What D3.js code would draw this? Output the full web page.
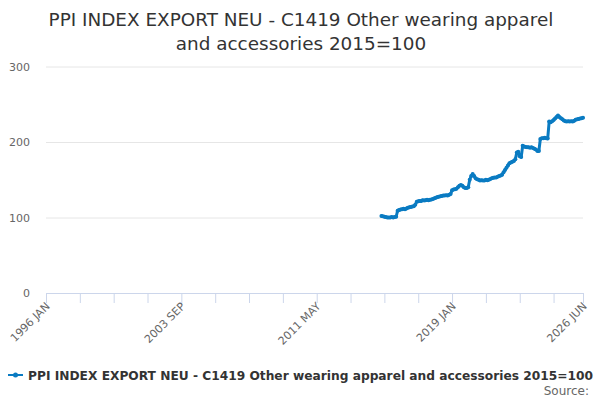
<!DOCTYPE html>
<html>
<head>
<meta charset="utf-8">
<script src="https://cdn.jsdelivr.net/npm/d3@7"></script>
<style>
  body { margin: 0; background: #fff; }
  svg { font-family: "DejaVu Sans", sans-serif; }
</style>
</head>
<body>
<svg id="chart" width="600" height="400"></svg>
<script>
var monthNames = ["JAN","FEB","MAR","APR","MAY","JUN","JUL","AUG","SEP","OCT","NOV","DEC"];
var firstYear = 1996, lastYear = 2026, lastMonth = 6;
var dataStart = "2015 JAN";
var yTicks = [0, 100, 200, 300];
var xLabels = ["1996 JAN", "2003 SEP", "2011 MAY", "2019 JAN", "2026 JUN"];
var seriesName = "PPI INDEX EXPORT NEU - C1419 Other wearing apparel and accessories 2015=100";

var v2015 = [102, 101.5, 101, 100.5, 100, 100, 100, 100.5, 100, 100.5, 101, 109];
var v2016 = [110, 110.5, 111, 111.5, 111, 112, 113, 113.5, 114, 114.5, 115, 117];
var v2017 = [121, 121.5, 122, 122, 123, 122.5, 123, 123.5, 123, 123.5, 124, 124.5];
var v2018 = [125.5, 126, 127, 127.5, 128, 128.5, 129, 129, 129.5, 129, 130, 131];
var v2019 = [136, 137, 137.5, 138, 140, 142, 143, 142, 140, 139, 139, 140];
var v2020 = [150, 155, 157.5, 155, 152, 150.5, 150, 149, 149.5, 149, 149, 150];
var v2021 = [149.5, 150, 151, 152, 152.5, 153, 153, 154, 155, 155.5, 156.5, 160];
var v2022 = [163, 166, 169, 172, 173, 174, 175, 177, 186, 187, 181, 180];
var v2023 = [195, 194, 193.5, 193, 193, 192.5, 193, 192, 191, 190, 188, 188];
var v2024 = [204, 205, 205, 205.5, 205, 204.5, 227, 226, 227.5, 229, 231, 233];
var v2025 = [235, 233, 231.5, 230, 228.5, 227.5, 227, 227.5, 227, 227.5, 227, 228];
var v2026 = [229.5, 230, 230.5, 231, 231.5, 232];

function main() {
  var svg = d3.select("#chart");
  var color = "#0a7bc2";

  // monthly categories
  var months = [];
  for (var y = firstYear; y <= lastYear; y++) {
    for (var m = 0; m < 12; m++) {
      if (y == lastYear && m >= lastMonth) break;
      months.push(y + " " + monthNames[m]);
    }
  }
  var values = [].concat(v2015, v2016, v2017, v2018, v2019, v2020, v2021, v2022, v2023, v2024, v2025, v2026);
  var startIdx = months.indexOf(dataStart);
  var data = values.map(function(v, i) { return { month: months[startIdx + i], value: v }; });

  var x = d3.scalePoint().domain(months).range([46, 583]);
  var yScale = d3.scaleLinear().domain([0, 300]).range([293, 66.5]);

  // title
  svg.append("text").attr("x", 301).attr("y", 26).attr("text-anchor", "middle")
    .attr("font-size", 18.4).attr("fill", "#333")
    .text("PPI INDEX EXPORT NEU - C1419 Other wearing apparel");
  svg.append("text").attr("x", 301).attr("y", 50).attr("text-anchor", "middle")
    .attr("font-size", 18.4).attr("fill", "#333")
    .text("and accessories 2015=100");

  // grid + y labels
  var yAxis = svg.append("g").attr("transform", "translate(46,0)")
    .call(d3.axisLeft(yScale).tickValues(yTicks).tickSize(-537).tickPadding(16));
  yAxis.select(".domain").remove();
  yAxis.selectAll(".tick line").attr("stroke", "#e6e6e6");
  yAxis.selectAll(".tick text").attr("fill", "#666").attr("font-size", 11)
    .attr("font-family", "DejaVu Sans, sans-serif");

  // x axis: ticks every 23 months plus last
  var tickMonths = months.filter(function(d, i) { return i % 23 == 0 || i == months.length - 1; });
  var xAxis = svg.append("g").attr("transform", "translate(0,293)")
    .call(d3.axisBottom(x).tickValues(tickMonths).tickSize(10).tickSizeOuter(0)
      .tickFormat(function(d) { return xLabels.indexOf(d) >= 0 ? d : ""; }));
  xAxis.select(".domain").attr("stroke", "#ccd6eb");
  xAxis.selectAll(".tick line").attr("stroke", "#ccd6eb");
  xAxis.selectAll(".tick text").attr("fill", "#666").attr("font-size", 11)
    .attr("font-family", "DejaVu Sans, sans-serif")
    .attr("text-anchor", "end").attr("dy", null).attr("y", 0)
    .attr("transform", "translate(4,14) rotate(-45)");

  // line
  var line = d3.line()
    .x(function(d) { return x(d.month); })
    .y(function(d) { return yScale(d.value); });
  svg.append("path").datum(data).attr("d", line)
    .attr("fill", "none").attr("stroke", color).attr("stroke-width", 3)
    .attr("stroke-linejoin", "round").attr("stroke-linecap", "round");
  svg.append("g").selectAll("circle").data(data).enter().append("circle")
    .attr("cx", function(d) { return x(d.month); })
    .attr("cy", function(d) { return yScale(d.value); })
    .attr("r", 2).attr("fill", color);

  // legend
  var lg = svg.append("g").attr("transform", "translate(8,375)");
  lg.append("line").attr("x1", 0).attr("x2", 15).attr("y1", 0).attr("y2", 0)
    .attr("stroke", color).attr("stroke-width", 2);
  lg.append("circle").attr("cx", 7.5).attr("cy", 0).attr("r", 2.5).attr("fill", color);
  lg.append("text").attr("x", 20).attr("y", 4.5).attr("font-size", 12)
    .attr("textLength", 565).attr("lengthAdjust", "spacingAndGlyphs")
    .attr("font-weight", "bold").attr("fill", "#333").text(seriesName);

  svg.append("text").attr("x", 589).attr("y", 395).attr("text-anchor", "end")
    .attr("font-size", 12).attr("fill", "#666").text("Source:");
}
main();
</script>
</body>
</html>
